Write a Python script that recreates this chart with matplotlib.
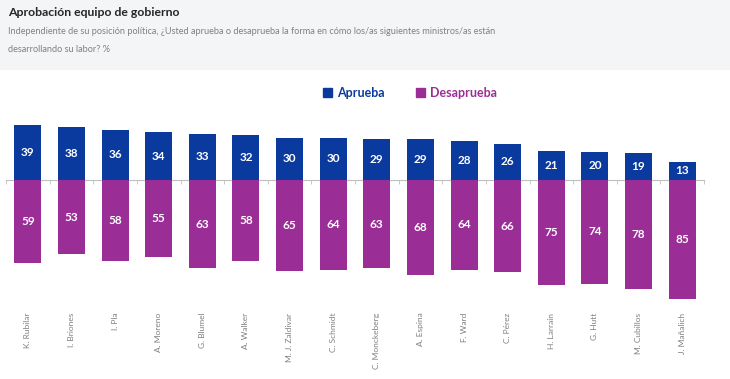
import matplotlib
matplotlib.use("Agg")
import matplotlib.pyplot as plt
from matplotlib.patches import Rectangle, Patch
import numpy as np

ministros = ["K. Rubilar", "I. Briones", "I. Pla", "A. Moreno", "G. Blumel",
             "A. Walker", "M. J. Zaldivar", "C. Schmidt", "C. Monckeberg",
             "A. Espina", "F. Ward", "C. Pérez", "H. Larraín", "G. Hutt",
             "M. Cubillos", "J. Mañalich"]
aprueba = [39, 38, 36, 34, 33, 32, 30, 30, 29, 29, 28, 26, 21, 20, 19, 13]
desaprueba = [59, 53, 58, 55, 63, 58, 65, 64, 63, 68, 64, 66, 75, 74, 78, 85]

AZUL = "#0b3a9e"
MORADO = "#9b2e96"
GRIS = "#7f7f7f"

plt.rcParams["font.family"] = ["Lato", "DejaVu Sans"]

fig = plt.figure(figsize=(7.3, 3.79), dpi=100)

# header band
fig.patches.append(Rectangle((0, 1 - 70 / 379), 1, 70 / 379, transform=fig.transFigure,
                             facecolor="#f4f5f7", edgecolor="none", zorder=0))
fig.text(8 / 730, 1 - 13 / 379, "Aprobación equipo de gobierno", fontsize=8.8,
         fontweight="bold", color="#262626", va="center", ha="left")
fig.text(8 / 730, 1 - 31 / 379,
         "Independiente de su posición política, ¿Usted aprueba o desaprueba la forma en cómo los/as siguientes ministros/as están",
         fontsize=6.6, color="#808080", va="center", ha="left")
fig.text(8 / 730, 1 - 49 / 379, "desarrollando su labor? %",
         fontsize=6.6, color="#808080", va="center", ha="left")

ax = fig.add_axes([6 / 730, 77.2 / 379, 698 / 730, 191.8 / 379])
x = np.arange(len(ministros))
w = 0.62
ax.bar(x, aprueba, width=w, color=AZUL, zorder=2)
ax.bar(x, [-v for v in desaprueba], width=w, color=MORADO, zorder=2)

for xi, v in zip(x, aprueba):
    ax.text(xi, v / 2, str(v), ha="center", va="center", color="white",
            fontsize=8.5, fontweight="bold", zorder=3)
for xi, v in zip(x, desaprueba):
    ax.text(xi, -v / 2, str(v), ha="center", va="center", color="white",
            fontsize=8.5, fontweight="bold", zorder=3)

ax.set_xlim(-0.5, len(ministros) - 0.5)
ax.set_ylim(-87, 50)
for s in ["top", "right", "left"]:
    ax.spines[s].set_visible(False)
ax.spines["bottom"].set_position(("data", 0))
ax.spines["bottom"].set_color("#bfbfbf")
ax.spines["bottom"].set_zorder(1)
ax.set_yticks([])
ax.set_xticks(x)
ax.set_xticklabels([])
ax.tick_params(axis="x", which="major", length=0)
ax.set_xticks(np.arange(-0.5, len(ministros), 1.0), minor=True)
ax.tick_params(axis="x", which="minor", length=3, color="#bfbfbf", direction="out")

for xi, name in zip(x, ministros):
    ax.text(xi, -0.057, name, transform=ax.get_xaxis_transform(), rotation=90,
            ha="center", va="top", fontsize=6.0, color=GRIS)

fig.legend(handles=[Patch(color=AZUL, label="Aprueba"), Patch(color=MORADO, label="Desaprueba")],
           loc="center", bbox_to_anchor=(410 / 730, 1 - 93 / 379), ncol=2, frameon=False,
           labelcolor=[AZUL, MORADO], prop={"weight": "bold", "size": 9},
           handlelength=0.7, handleheight=0.7, handletextpad=0.4, columnspacing=2.5)

fig.savefig("out.png", dpi=100)
